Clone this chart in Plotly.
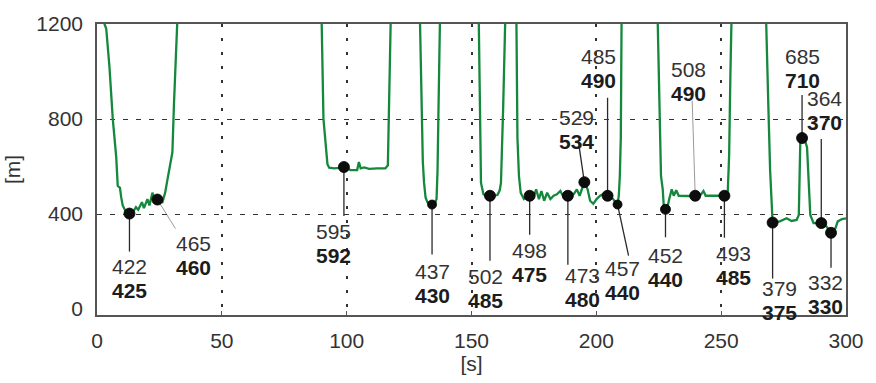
import plotly.graph_objects as go

# ---- green altitude trace (time [s], altitude [m]) ----
t = [2.5, 3.0, 3.7, 5.0, 6.3, 7.7, 8.3, 9.2, 9.7, 10.3, 11.6, 13.0, 14.2, 15.6, 16.5, 18.0, 18.8, 20.2, 21.0, 22.2,
     23.0, 24.2, 26.2, 27.3, 28.2, 29.5, 30.2, 30.8, 31.5, 32.1, 32.5,
     89.7, 90.0, 90.7, 91.7, 92.3, 93.0, 95.0, 97.0, 98.9, 101.6, 104.2, 104.9, 105.6, 107.0, 109.0, 112.2, 115.5,
     116.5, 116.8, 117.5, 117.8,
     129.2, 129.4, 130.0, 130.5, 131.0, 131.6, 132.3, 133.2, 134.2, 135.3, 136.0, 136.4, 136.8, 137.3, 137.5,
     152.8, 152.9, 153.6, 153.8, 154.8, 156.0, 157.4, 159.0, 160.4, 161.3, 161.8, 162.7, 163.5, 163.7,
     167.8, 168.0, 168.4, 169.0, 169.7, 171.0, 172.0, 173.3, 175.0, 175.9, 177.0, 178.0, 179.1, 180.3, 181.6, 182.9,
     184.2, 185.6, 186.9, 188.6, 190.9, 192.2, 193.3, 195.2, 196.5, 197.5, 198.8, 200.1, 201.5, 203.0, 204.5, 206.7,
     208.5, 209.0, 209.4, 209.8, 210.1, 210.3,
     224.4, 224.6, 225.3, 225.9, 226.6, 227.0, 227.7, 228.5, 229.2, 230.2, 231.0, 232.0, 233.0, 235.0, 237.0, 239.6,
     241.8, 242.9, 243.8, 246.2, 249.0, 251.3, 252.6, 253.2, 253.7, 254.1, 254.3,
     267.8, 268.0, 268.9, 269.6, 270.2, 270.6, 273.5, 276.2, 278.2, 280.2, 281.1, 281.5, 281.7, 282.4, 283.5, 284.4,
     285.2, 285.7, 287.0, 288.5, 290.1, 292.1, 294.0, 295.8, 296.7, 298.4, 300.0]
alt = [1300, 1200, 1180, 1018, 803, 640, 519, 510, 470, 436, 409, 402, 405, 429, 418, 450, 425, 463, 436, 490,
       463, 461, 450, 490, 544, 612, 660, 855, 1058, 1200, 1300,
       1300, 1200, 801, 660, 610, 595, 592, 594, 598, 585, 585, 619, 592, 596, 590, 592, 592,
       605, 855, 1200, 1300,
       1300, 1200, 855, 620, 531, 470, 450, 442, 440, 445, 463, 585, 855, 1200, 1300,
       1300, 1200, 720, 531, 483, 477, 477, 478, 480, 500, 531, 855, 1200, 1300,
       1300, 1200, 720, 560, 490, 463, 470, 477, 477, 504, 463, 497, 456, 490, 463, 477,
       483, 497, 470, 477, 483, 504, 477, 534, 504, 456, 443, 463, 477, 485, 477, 463,
       440, 477, 558, 720, 1200, 1300,
       1300, 1200, 855, 560, 504, 436, 420, 430, 463, 504, 477, 500, 477, 478, 476, 477,
       481, 497, 477, 477, 476, 477, 483, 652, 990, 1200, 1300,
       1300, 1200, 855, 585, 396, 364, 369, 382, 371, 375, 396, 585, 706, 720, 713, 680,
       517, 396, 362, 361, 362, 348, 321, 341, 369, 379, 382]

# ---- marked points and their two labels ----
mark_t = [13.0, 24.2, 98.9, 134.2, 157.4, 173.3, 188.6, 195.2, 204.5, 208.5, 227.7, 239.6, 251.3, 270.6, 282.4, 290.1, 294.0]
mark_alt = [402, 461, 598, 440, 477, 477, 477, 534, 477, 440, 420, 477, 477, 364, 720, 362, 321]
label_top = ["422", "465", "595", "437", "502", "498", "473", "529", "485", "457", "452", "508", "493", "379", "685", "364", "332"]
label_bold = ["425", "460", "592", "430", "485", "475", "480", "534", "490", "440", "440", "490", "485", "375", "710", "370", "330"]

# label placement: pixel offset of the centre of the two-line label from its marker (screen y down)
lab_dx = [0, 36, -10, 0, -4, 0, 15, -8, -9, 5, 0, -7, 9, 7, 0, 3, -6]
lab_dy = [65, 56, 76, 79, 93, 67, 92, -53, -127, 76, 58, -114, 70, 78, -70, -113, 62]
# leader line end (pixel offsets from marker; screen y down)
lead_dx = [0, 18, 0, 0, 0, 0, 0, -6, 0, 11, 0, -3, 0, 0, 0, 0, 0]
lead_dy = [38, 29, 49, 50, 65, 39, 69, -41, -98, 51, 28, -95, 42, 56, -43, -84, 35]
lead_col = ["#2a2a2a", "#9a9a9a", "#2a2a2a", "#2a2a2a", "#2a2a2a", "#2a2a2a", "#2a2a2a", "#2a2a2a", "#2a2a2a",
            "#2a2a2a", "#2a2a2a", "#9a9a9a", "#2a2a2a", "#2a2a2a", "#2a2a2a", "#2a2a2a", "#2a2a2a"]
mark_size = [11, 11, 11, 9, 11, 11, 11, 11, 11, 9, 10, 11, 11, 11, 11, 11, 11]

FONT = "Liberation Sans, Arial, Helvetica, sans-serif"
LABEL_SIZE = 21
LINE_GAP = 24  # px between the two label lines

fig = go.Figure()
fig.add_trace(go.Scatter(x=t, y=alt, mode="lines", line=dict(color="#14883c", width=2.3),
                         hoverinfo="skip", showlegend=False))
fig.add_trace(go.Scatter(x=mark_t, y=mark_alt, mode="markers",
                         marker=dict(color="#0d0d0d", size=mark_size, opacity=1,
                                     line=dict(color="#000000", width=0.8)),
                         showlegend=False, cliponaxis=False))

shapes = []
annotations = []
for i in range(len(mark_t)):
    shapes.append(dict(type="line", xref="x", yref="y", xsizemode="pixel", ysizemode="pixel",
                       xanchor=mark_t[i], yanchor=mark_alt[i], x0=0, y0=0,
                       x1=lead_dx[i], y1=-lead_dy[i], layer="below",
                       line=dict(color=lead_col[i], width=1.3 if lead_col[i] != "#9a9a9a" else 1.0)))
    annotations.append(dict(x=mark_t[i], y=mark_alt[i], xref="x", yref="y", text=label_top[i],
                            showarrow=False, xshift=lab_dx[i], yshift=-(lab_dy[i] - LINE_GAP / 2),
                            xanchor="center", yanchor="middle", borderpad=0,
                            font=dict(family=FONT, size=LABEL_SIZE, color="#333333")))
    annotations.append(dict(x=mark_t[i], y=mark_alt[i], xref="x", yref="y", text="<b>" + label_bold[i] + "</b>",
                            showarrow=False, xshift=lab_dx[i], yshift=-(lab_dy[i] + LINE_GAP / 2),
                            xanchor="center", yanchor="middle", borderpad=0,
                            font=dict(family=FONT, size=LABEL_SIZE, color="#1c1c1c")))

fig.update_layout(
    width=876, height=383,
    margin=dict(l=94, r=26, t=15, b=66),
    paper_bgcolor="white", plot_bgcolor="white",
    font=dict(family=FONT, size=21, color="#333333"),
    shapes=shapes, annotations=annotations,
    xaxis=dict(range=[0, 300], tickvals=[0, 50, 100, 150, 200, 250, 300],
               showline=True, linecolor="#555555", linewidth=1.5, mirror=True,
               ticks="inside", ticklen=4, tickcolor="#555555",
               showgrid=True, gridcolor="#333333", gridwidth=1.5, griddash="3px,11px",
               zeroline=False, ticklabelstandoff=6,
               title=dict(text="[s]", font=dict(size=21, color="#333333"), standoff=4)),
    yaxis=dict(range=[-25, 1200], tickvals=[0, 400, 800, 1200],
               showline=True, linecolor="#555555", linewidth=1.5, mirror=True,
               ticks="", showgrid=False, zeroline=False, ticklabelstandoff=8,
               minor=dict(tickvals=[400, 800], showgrid=True, gridcolor="#333333",
                          gridwidth=1.3, griddash="5px,8px", ticks=""),
               title=dict(text="[m]", font=dict(size=21, color="#333333"), standoff=10)),
)

fig.write_html("out.html")
